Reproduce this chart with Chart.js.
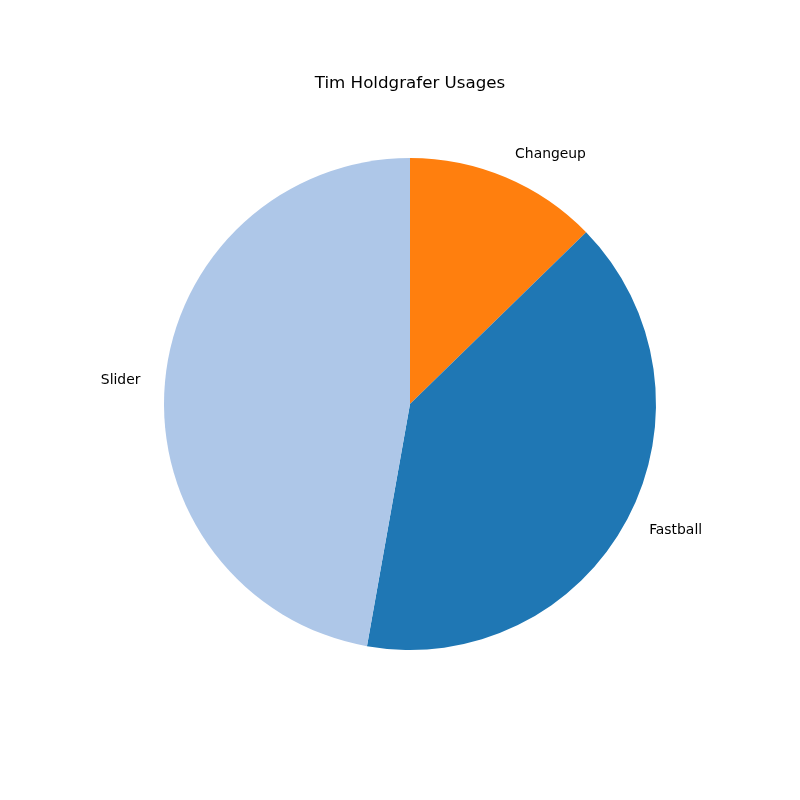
<!DOCTYPE html>
<html>
<head>
<meta charset="utf-8">
<script src="https://cdn.jsdelivr.net/npm/chart.js@4"></script>
<style>
  html, body { margin: 0; padding: 0; background: #fff; }
  #wrap { width: 800px; height: 800px; }
</style>
</head>
<body>
<div id="wrap"><canvas id="chart" width="800" height="800"></canvas></div>
<script>
// pitch usage (percent), clockwise from 12 o'clock
const pitchTypes = ['Changeup', 'Fastball', 'Slider'];
const usagePct = [12.7, 40.1, 47.2];
const sliceColors = ['#ff7f0e', '#1f77b4', '#aec7e8'];
const chartTitle = 'Tim Holdgrafer Usages';

// draw the slice labels outside the pie, matplotlib style
const outerLabels = {
    id: 'outerLabels',
    afterDatasetsDraw(chart) {
        const ctx = chart.ctx;
        const meta = chart.getDatasetMeta(0);
        ctx.save();
        ctx.font = '13.9px "DejaVu Sans", sans-serif';
        ctx.fillStyle = '#000';
        ctx.textBaseline = 'middle';
        meta.data.forEach((arc, i) => {
            const mid = (arc.startAngle + arc.endAngle) / 2;
            const r = arc.outerRadius * 1.1;
            const x = arc.x + Math.cos(mid) * r;
            const y = arc.y + Math.sin(mid) * r;
            ctx.textAlign = x >= arc.x ? 'left' : 'right';
            ctx.fillText(chart.data.labels[i], x, y);
        });
        // title
        ctx.font = '16.7px "DejaVu Sans", sans-serif';
        ctx.textAlign = 'center';
        ctx.fillText(chartTitle, 410, 84);
        ctx.restore();
    }
};

new Chart(document.getElementById('chart'), {
    type: 'pie',
    data: {
        labels: pitchTypes,
        datasets: [{
            data: usagePct,
            backgroundColor: sliceColors,
            borderWidth: 0
        }]
    },
    options: {
        responsive: false,
        animation: false,
        layout: { padding: { left: 164, right: 144, top: 158, bottom: 150 } },
        plugins: {
            legend: { display: false },
            tooltip: { enabled: false },
            title: { display: false }
        }
    },
    plugins: [outerLabels]
});
</script>
</body>
</html>
